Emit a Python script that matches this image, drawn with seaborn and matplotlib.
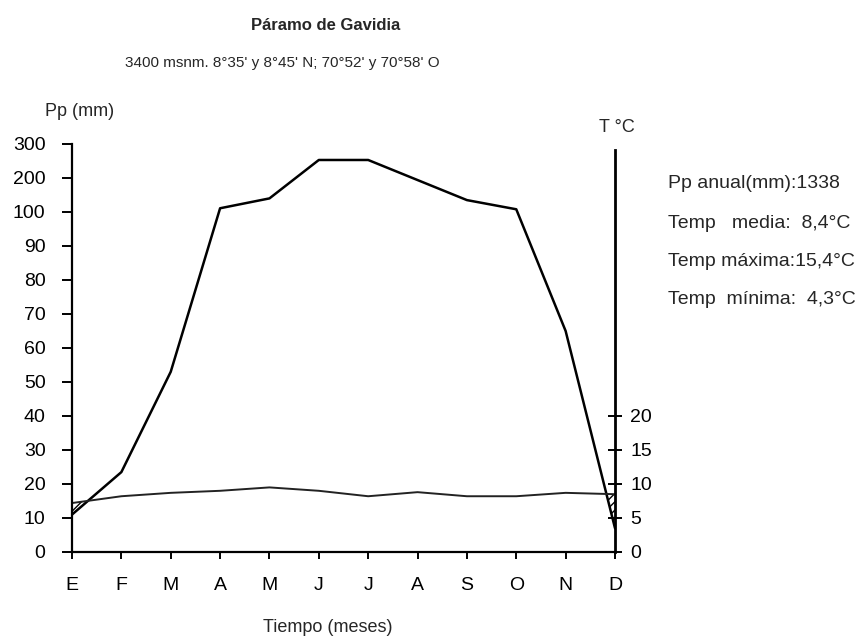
import numpy as np
import pandas as pd
import matplotlib
matplotlib.use("Agg")
import matplotlib.pyplot as plt
import seaborn as sns

# ---- data ----
months = ["E", "F", "M", "A", "M", "J", "J", "A", "S", "O", "N", "D"]
precip_mm = [11, 23.5, 53, 111, 140, 253, 253, 194, 135, 108, 65, 7]
temp_c = [7.2, 8.2, 8.7, 9.0, 9.5, 9.0, 8.2, 8.8, 8.2, 8.2, 8.7, 8.5]
pp_ticks = [0, 10, 20, 30, 40, 50, 60, 70, 80, 90, 100, 200, 300]
t_ticks = [0, 5, 10, 15, 20]
title = "Páramo de Gavidia"
subtitle = "3400 msnm. 8°35' y 8°45' N; 70°52' y 70°58' O"
info_lines = ["Pp anual(mm):1338",
              "Temp   media:  8,4°C",
              "Temp máxima:15,4°C",
              "Temp  mínima:  4,3°C"]

sns.set_style("white")
plt.rcParams["font.family"] = ["Liberation Sans", "DejaVu Sans"]
plt.rcParams["hatch.linewidth"] = 1.0

W, H = 860, 637
fig = plt.figure(figsize=(W / 100, H / 100), dpi=100)
ax = fig.add_axes([72 / W, (H - 552) / H, (615 - 72) / W, (552 - 144) / H])


def fwd(v):
    v = np.asarray(v, dtype=float)
    return np.where(v <= 100, v / 10.0, 10 + (v - 100) / 100.0)


def inv(u):
    u = np.asarray(u, dtype=float)
    return np.where(u <= 10, u * 10.0, 100 + (u - 10) * 100.0)


x = np.arange(len(months))
df = pd.DataFrame({"mes": x, "pp": precip_mm, "t": temp_c,
                   "t_mm": np.array(temp_c) * 2})

ax.set_yscale("function", functions=(fwd, inv))
sns.lineplot(data=df, x="mes", y="pp", ax=ax, color="black", lw=1.8)
sns.lineplot(data=df, x="mes", y="t_mm", ax=ax, color="#222222", lw=1.4)
ax.fill_between(df["mes"], df["pp"], df["t_mm"], where=df["pp"] < df["t_mm"],
                interpolate=True, facecolor="none", edgecolor="black",
                hatch="////", linewidth=0)

ax.set_xlim(0, 11)
ax.set_ylim(0, 300)
ax.set_xticks(x)
ax.set_xticklabels(months)
ax.set_yticks(pp_ticks)
ax.set_yticklabels([str(t) for t in pp_ticks])
ax.set_xlabel("")
ax.set_ylabel("")
ax.minorticks_off()
for s in ["top", "right"]:
    ax.spines[s].set_visible(False)
for s in ["left", "bottom"]:
    ax.spines[s].set_color("black")
    ax.spines[s].set_linewidth(1.6)
ax.spines["left"].set_bounds(0, 300)
ax.tick_params(axis="y", direction="out", length=7, width=1.4, pad=12,
               labelsize=14, colors="black", left=True)
ax.tick_params(axis="x", direction="out", length=5, width=1.4, pad=13,
               labelsize=14, colors="black", bottom=True)

# right temperature axis
ax2 = ax.twinx()
ax2.set_yscale("function", functions=(lambda v: fwd(np.asarray(v) * 2),
                                      lambda u: inv(u) / 2))
ax2.set_ylim(0, 150)
ax2.set_yticks(t_ticks)
ax2.set_yticklabels([str(t) for t in t_ticks])
ax2.minorticks_off()
for s in ["top", "left", "bottom"]:
    ax2.spines[s].set_visible(False)
ax2.spines["right"].set_color("black")
ax2.spines["right"].set_linewidth(2.0)
ax2.spines["right"].set_bounds(0, 141)
ax2.tick_params(axis="y", direction="inout", length=10, width=1.4, pad=6,
                labelsize=14, colors="black", right=True)
ax2.grid(False)
ax.grid(False)

# texts
def fx(px):
    return px / W


def fy(py):
    return 1 - py / H


fig.text(fx(326), fy(25), title, ha="center", va="center", fontsize=12,
         fontweight="bold")
fig.text(fx(282), fy(63), subtitle, ha="center", va="center", fontsize=11)
fig.text(fx(80), fy(112), "Pp (mm)", ha="center", va="center", fontsize=13)
fig.text(fx(617), fy(127), "T °C", ha="center", va="center", fontsize=13)
fig.text(fx(328), fy(627), "Tiempo (meses)", ha="center", va="center",
         fontsize=13)
for line, yy in zip(info_lines, [183, 223, 262, 300]):
    fig.text(fx(668), fy(yy), line, ha="left", va="center", fontsize=14)

fig.savefig("out.png", dpi=100, facecolor="white")
